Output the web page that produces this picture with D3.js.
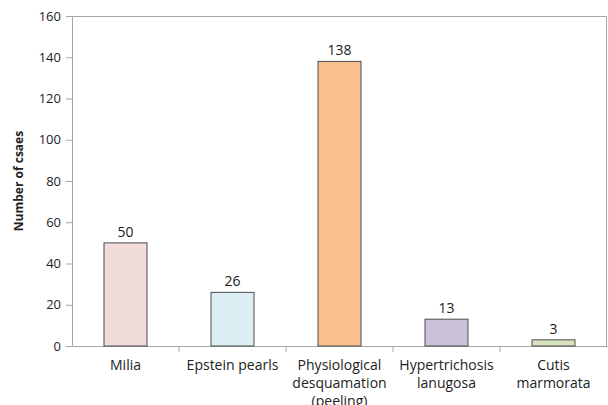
<!DOCTYPE html>
<html>
<head>
<meta charset="utf-8">
<style>
  body { margin: 0; background: #fff; }
  svg text { font-family: "Open Sans", "Liberation Sans", sans-serif; fill: #222; }
</style>
</head>
<body>
<script src="https://d3js.org/d3.v7.min.js"></script>
<script>
var categories = ["Milia", "Epstein pearls", "Physiological desquamation (peeling)", "Hypertrichosis lanugosa", "Cutis marmorata"];
var labelLines = [["Milia"], ["Epstein pearls"], ["Physiological", "desquamation", "(peeling)"], ["Hypertrichosis", "lanugosa"], ["Cutis", "marmorata"]];
var cases = [50, 26, 138, 13, 3];
var fills = ["#f2dcdb", "#dbeef4", "#fac090", "#ccc1da", "#d7e4bd"];
var yTicks = [0, 20, 40, 60, 80, 100, 120, 140, 160];

var width = 608, height = 405;
var mLeft = 72, mTop = 16, mRight = 607, mBottom = 346;

var svg = d3.select("body").append("svg")
    .attr("width", width)
    .attr("height", height);

var x = d3.scaleBand().domain(categories).range([mLeft, mRight]);
var y = d3.scaleLinear().domain([0, 160]).range([mBottom, mTop]);

// plot frame (top and right)
svg.append("path")
    .attr("d", "M" + mLeft + "," + (mTop + 0.5) + "H" + (mRight - 0.5) + "V" + mBottom)
    .attr("fill", "none")
    .attr("stroke", "#a6a6a6");

// y axis
var yAxis = svg.append("g")
    .attr("transform", "translate(" + mLeft + ",0)")
    .call(d3.axisLeft(y).tickValues(yTicks).tickSize(6).tickPadding(5));
yAxis.select(".domain").attr("stroke", "#a6a6a6");
yAxis.selectAll(".tick line").attr("stroke", "#a6a6a6");
yAxis.selectAll("text").style("font-size", "13px").attr("fill", "#222");

// x axis
var xAxis = svg.append("g")
    .attr("transform", "translate(0," + mBottom + ")")
    .call(d3.axisBottom(x).tickSize(0).tickFormat(""));
xAxis.select(".domain").attr("stroke", "#a6a6a6");

// category separators
svg.selectAll(".sep")
    .data(categories.slice(1))
    .enter().append("line")
    .attr("x1", function(d){ return x(d); })
    .attr("x2", function(d){ return x(d); })
    .attr("y1", mBottom)
    .attr("y2", mBottom + 6)
    .attr("stroke", "#a6a6a6");

// bars
var barW = 43;
svg.selectAll(".bar")
    .data(cases)
    .enter().append("rect")
    .attr("x", function(d, i){ return x(categories[i]) + x.bandwidth() / 2 - barW / 2; })
    .attr("y", function(d){ return y(d); })
    .attr("width", barW)
    .attr("height", function(d){ return mBottom - y(d); })
    .attr("fill", function(d, i){ return fills[i]; })
    .attr("stroke", "#4d4d4d")
    .attr("stroke-width", 1);

// value labels
svg.selectAll(".val")
    .data(cases)
    .enter().append("text")
    .attr("x", function(d, i){ return x(categories[i]) + x.bandwidth() / 2; })
    .attr("y", function(d){ return y(d) - 6; })
    .attr("text-anchor", "middle")
    .style("font-size", "14px")
    .text(function(d){ return d; });

// category labels
labelLines.forEach(function(lines, i){
  var t = svg.append("text")
      .attr("x", x(categories[i]) + x.bandwidth() / 2)
      .attr("y", 370)
      .attr("text-anchor", "middle")
      .style("font-size", "14px");
  lines.forEach(function(l, j){
    t.append("tspan")
      .attr("x", x(categories[i]) + x.bandwidth() / 2)
      .attr("dy", j == 0 ? 0 : 18)
      .text(l);
  });
});

// y title
svg.append("text")
    .attr("transform", "translate(23," + ((mTop + mBottom) / 2) + ") rotate(-90)")
    .attr("text-anchor", "middle")
    .style("font-size", "12px")
    .style("font-weight", "bold")
    .text("Number of csaes");
</script>
</body>
</html>
